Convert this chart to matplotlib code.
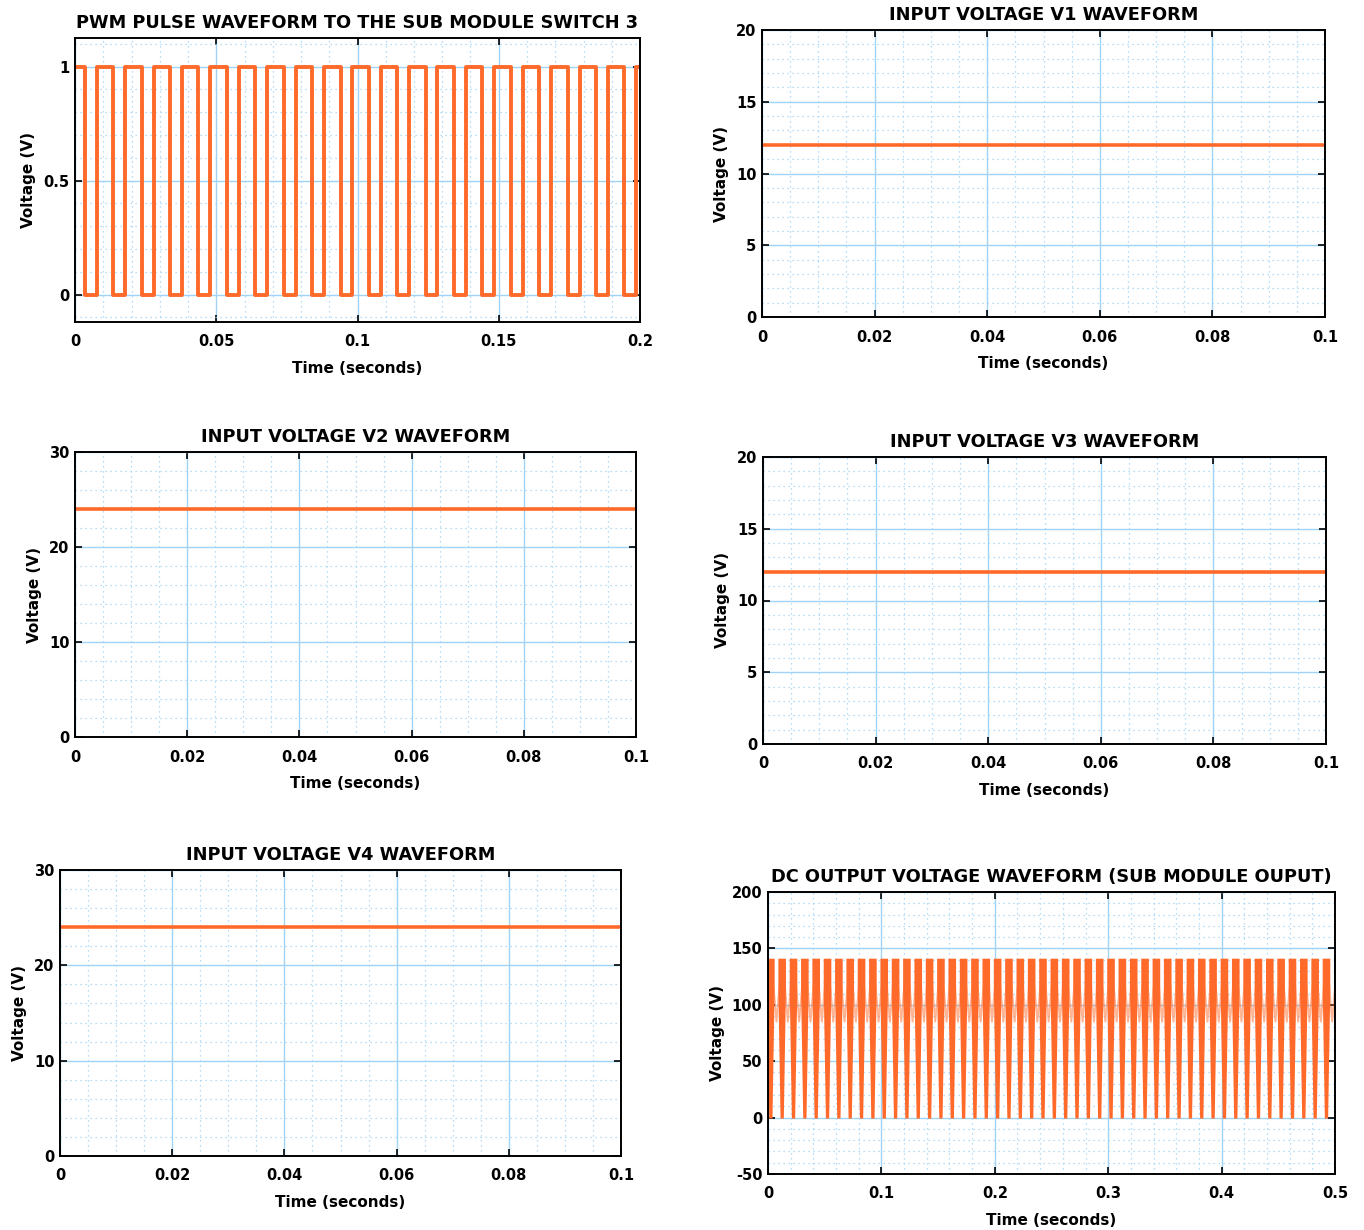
import matplotlib

matplotlib.use("Agg")
import matplotlib.pyplot as plt  # noqa: E402
from matplotlib.ticker import FuncFormatter, MultipleLocator  # noqa: E402

plt.rcParams["font.family"] = ["DejaVu Sans"]
plt.rcParams["font.weight"] = "bold"

ORANGE = "#ff6a2a"
GRID = "#9fd3f7"

# PWM edges (seconds)
pwm_fall = [0.0035, 0.0136, 0.0236, 0.0337, 0.0437, 0.0538, 0.0638, 0.0739, 0.0839, 0.0940,
            0.1040, 0.1141, 0.1241, 0.1342, 0.1442, 0.1543, 0.1643, 0.1744, 0.1844, 0.1945]
pwm_rise = [0.0077, 0.0178, 0.0278, 0.0379, 0.0479, 0.0580, 0.0680, 0.0781, 0.0881, 0.0982,
            0.1082, 0.1183, 0.1283, 0.1384, 0.1484, 0.1585, 0.1685, 0.1786, 0.1886, 0.1987]
pwm_end = 0.2

# constant inputs
v1_level = 12
v2_level = 24
v3_level = 12
v4_level = 24

# DC output: one 10 ms cycle, repeated over the window
dc_period = 0.01
dc_cycles = 50
dc_tooth_t = [0.0, 0.0, 0.0050, 0.0050, 0.0031, 0.0019, 0.0]
dc_tooth_v = [115, 140, 140, 115, 0, 0, 115]
dc_gap_t = [0.0050, 0.0075, 0.0100]
dc_gap_v = [115, 85, 115]


def box(x0, y0, x1, y1):
    W, H = 1364, 1230
    return [x0 / W, 1 - y1 / H, (x1 - x0) / W, (y1 - y0) / H]


def style(ax, title, xlim, ylim, xmaj, xmin, ymaj, ymin):
    ax.set_xlim(*xlim)
    ax.set_ylim(*ylim)
    ax.xaxis.set_major_locator(MultipleLocator(xmaj))
    ax.xaxis.set_minor_locator(MultipleLocator(xmin))
    ax.yaxis.set_major_locator(MultipleLocator(ymaj))
    ax.yaxis.set_minor_locator(MultipleLocator(ymin))
    fmt = FuncFormatter(lambda v, p: f"{v:g}")
    ax.xaxis.set_major_formatter(fmt)
    ax.yaxis.set_major_formatter(fmt)
    ax.grid(True, which="major", color=GRID, lw=1.0)
    ax.grid(True, which="minor", color=GRID, lw=0.9, ls=(0, (1, 3)))
    ax.set_axisbelow(True)
    ax.tick_params(which="major", direction="in", length=5, width=1.2,
                   top=True, right=True, labelsize=10.5)
    ax.tick_params(axis="x", which="major", pad=9)
    ax.tick_params(axis="y", which="major", pad=4)
    ax.tick_params(which="minor", length=0)
    for s in ax.spines.values():
        s.set_linewidth(1.4)
    ax.set_title(title, fontsize=12.8, fontweight="bold", pad=7)
    ax.set_xlabel("Time (seconds)", fontsize=11, fontweight="bold", labelpad=8)
    ax.set_ylabel("Voltage (V)", fontsize=11, fontweight="bold", labelpad=5)


fig = plt.figure(figsize=(13.64, 12.3), dpi=100)

# PWM pulse
ax = fig.add_axes(box(75, 38, 640, 322))
edges = sorted([(t, 0) for t in pwm_fall] + [(t, 1) for t in pwm_rise])
t, v, level = [0.0], [1], 1
for te, new in edges:
    t += [te, te]
    v += [level, new]
    level = new
t.append(pwm_end)
v.append(level)
ax.plot(t, v, color=ORANGE, lw=2.8)
style(ax, "PWM PULSE WAVEFORM TO THE SUB MODULE SWITCH 3",
      (0, 0.2), (-0.12, 1.125), 0.05, 0.01, 0.5, 0.1)

# V1
ax = fig.add_axes(box(762, 30, 1325, 317))
ax.plot([0, 0.1], [v1_level, v1_level], color=ORANGE, lw=2.6)
style(ax, "INPUT VOLTAGE V1 WAVEFORM", (0, 0.1), (0, 20), 0.02, 0.005, 5, 1)

# V2
ax = fig.add_axes(box(75, 452, 636, 737))
ax.plot([0, 0.1], [v2_level, v2_level], color=ORANGE, lw=2.6)
style(ax, "INPUT VOLTAGE V2 WAVEFORM", (0, 0.1), (0, 30), 0.02, 0.005, 10, 2)

# V3
ax = fig.add_axes(box(763, 457, 1326, 744))
ax.plot([0, 0.1], [v3_level, v3_level], color=ORANGE, lw=2.6)
style(ax, "INPUT VOLTAGE V3 WAVEFORM", (0, 0.1), (0, 20), 0.02, 0.005, 5, 1)

# V4
ax = fig.add_axes(box(60, 870, 621, 1156))
ax.plot([0, 0.1], [v4_level, v4_level], color=ORANGE, lw=2.6)
style(ax, "INPUT VOLTAGE V4 WAVEFORM", (0, 0.1), (0, 30), 0.02, 0.005, 10, 2)

# DC output
ax = fig.add_axes(box(768, 892, 1335, 1174))
for k in range(dc_cycles + 1):
    t0 = k * dc_period
    ax.fill([t0 + dt for dt in dc_tooth_t], dc_tooth_v, color=ORANGE, lw=1.4,
            ec=ORANGE, clip_on=True)
    ax.plot([t0 + dt for dt in dc_gap_t], dc_gap_v, color=ORANGE, lw=1.4, alpha=0.5)
style(ax, "DC OUTPUT VOLTAGE WAVEFORM (SUB MODULE OUPUT)",
      (0, 0.5), (-50, 200), 0.1, 0.02, 50, 10)

fig.savefig("out.png", dpi=100)
